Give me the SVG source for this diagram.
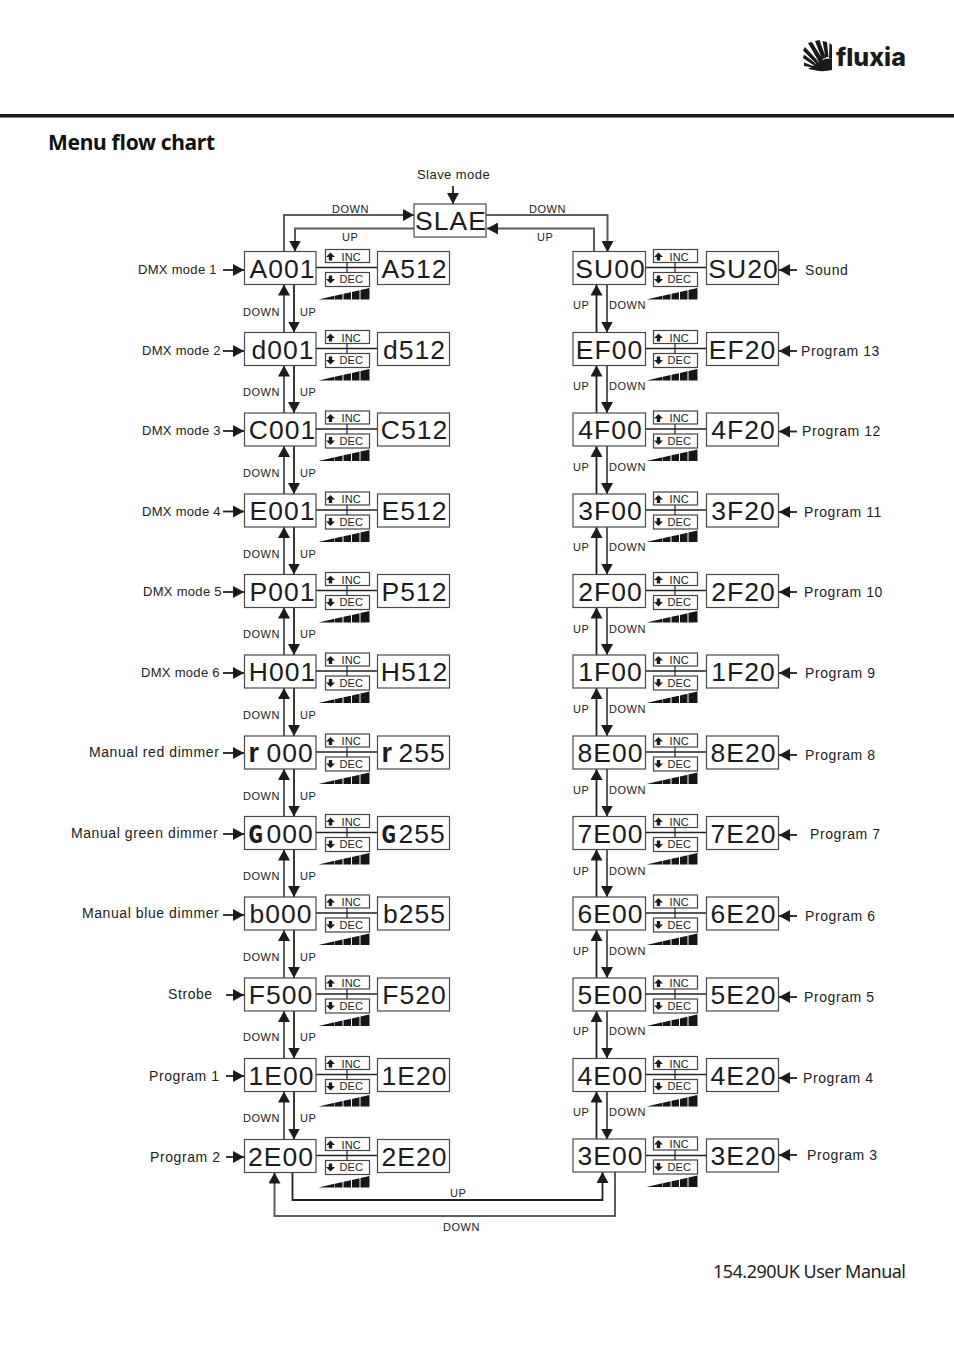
<svg xmlns="http://www.w3.org/2000/svg" width="954" height="1353" viewBox="0 0 954 1353">
<style>
text{font-family:"Liberation Sans",Arial,sans-serif;fill:#222}
.box{fill:#fff;stroke:#4a4a4a;stroke-width:1.2}
.big{font-size:26.5px;text-anchor:middle;letter-spacing:1px;fill:#1c1c1c}
.lb{font-size:13px;letter-spacing:.3px}
.lc{font-size:14px;letter-spacing:.58px}
.sm{font-size:11px;letter-spacing:.55px}
.c{font-size:11px;letter-spacing:.1px}
.blk{font-family:"Liberation Sans",sans-serif;font-weight:bold;font-size:27px}
.blg{font-family:"DejaVu Sans Mono",monospace;font-weight:bold;font-size:25px}
.ln{fill:none;stroke:#222;stroke-width:1.8;marker-end:url(#ah)}
.gr{fill:none;stroke:#5c5c5c;stroke-width:2;marker-end:url(#ah)}
.pl{fill:none;stroke:#222;stroke-width:1.4}
.cb{fill:#fff;stroke:#444;stroke-width:1.2}
</style>
<defs>
<marker id="ah" markerUnits="userSpaceOnUse" markerWidth="12" markerHeight="12" refX="11" refY="6" orient="auto"><path d="M0,0L11,6L0,12z" fill="#1c1c1c"/></marker>
<g id="ctrl">
<rect class="cb" x="0" y="-2" width="44" height="13"/>
<rect class="cb" x="0" y="21" width="44" height="14"/>
<path d="M21.500,11V21" stroke="#222" stroke-width="1.200"/>
<path d="M5,1L9.500,5.500H6.700V9H3.300V5.500H.5z" fill="#1c1c1c"/>
<path d="M5,32L9.500,27.500H6.700V24H3.300V27.500H.5z" fill="#1c1c1c"/>
<path d="M-7,48L9,44.300V48zM9.500,44.200L17,42.600V48H9.500zM18,42.300L25.500,40.700V48H18zM26.500,40.400L34,38.800V48H26.500zM35,38.500L44,36.600V48H35z" fill="#161616"/>
</g>
</defs>
<rect width="954" height="1353" fill="#fff"/>
<g id="logo">
<path d="M808,43L812,42L823,60L819,62zM815,41L819.500,40L826,58L822,59zM822.500,41L827,42L828.500,57L825.500,57.500zM829.500,43L832,45V58H829zM803,50.500L805,47L818,61L816,63.500zM803,58L804,54.500L815,63L814,65.500zM804,66L804,62.500L813,66L813,67.500z" fill="#1a1a1a"/>
<path d="M813,66L817,62L825,59L832,58V70Q826,71.500 819,71Q814,70 808,69z" fill="#1a1a1a"/>
<text x="836" y="66" style="font-family:Inter,sans-serif;font-weight:800;font-size:25px;fill:#1a1a1a">fluxia</text>
</g>
<rect id="rule" x="0" y="114" width="954" height="3.500" fill="#1a1a1a"/>
<text id="title" x="48" y="150" textLength="167" style="font-family:'Noto Sans',sans-serif;font-weight:bold;font-size:21px;fill:#111">Menu flow chart</text>
<text id="footer" x="713" y="1278" textLength="193" style="font-family:'Noto Sans',sans-serif;font-size:18px;fill:#222">154.290UK User Manual</text>

<g id="connectors">
<path class="ln" d="M453,186V204"/>
<path class="gr" d="M284,251V215H414"/>
<path class="gr" d="M414,228.500H295V251.500"/>
<path class="gr" d="M486,215H607.500V252"/>
<path class="gr" d="M594,252V228.500H487"/>
<path class="gr" d="M284,332.500V284.500"/><path class="ln" d="M294,284.500V332.500"/>
<path class="gr" d="M284,413V365.500"/><path class="ln" d="M294,365.500V413"/>
<path class="gr" d="M284,494V446"/><path class="ln" d="M294,446V494"/>
<path class="gr" d="M284,574.500V527"/><path class="ln" d="M294,527V574.500"/>
<path class="gr" d="M284,655V607.500"/><path class="ln" d="M294,607.500V655"/>
<path class="gr" d="M284,736V688"/><path class="ln" d="M294,688V736"/>
<path class="gr" d="M284,816.500V769"/><path class="ln" d="M294,769V816.500"/>
<path class="gr" d="M284,897V849.500"/><path class="ln" d="M294,849.500V897"/>
<path class="gr" d="M284,978V930"/><path class="ln" d="M294,930V978"/>
<path class="gr" d="M284,1058.500V1011"/><path class="ln" d="M294,1011V1058.500"/>
<path class="gr" d="M284,1139.500V1091.500"/><path class="ln" d="M294,1091.500V1139.500"/>
<path class="ln" d="M596.500,332.500V284.500"/><path class="gr" d="M607,284.500V332.500"/>
<path class="ln" d="M596.500,413V365.500"/><path class="gr" d="M607,365.500V413"/>
<path class="ln" d="M596.500,494V446"/><path class="gr" d="M607,446V494"/>
<path class="ln" d="M596.500,574.500V527"/><path class="gr" d="M607,527V574.500"/>
<path class="ln" d="M596.500,655V607.500"/><path class="gr" d="M607,607.500V655"/>
<path class="ln" d="M596.500,736V688"/><path class="gr" d="M607,688V736"/>
<path class="ln" d="M596.500,816.500V769"/><path class="gr" d="M607,769V816.500"/>
<path class="ln" d="M596.500,897V849.500"/><path class="gr" d="M607,849.500V897"/>
<path class="ln" d="M596.500,978V930"/><path class="gr" d="M607,930V978"/>
<path class="ln" d="M596.500,1058.500V1011"/><path class="gr" d="M607,1011V1058.500"/>
<path class="ln" d="M596.500,1139.500V1091.500"/><path class="gr" d="M607,1091.500V1139.500"/>
<path class="ln" d="M292.500,1172.500V1200H602.500V1172"/>
<path class="gr" d="M615,1172V1216H274.500V1172.500"/>
<path class="ln" d="M223,270H244"/><path class="ln" d="M223,351H244"/><path class="ln" d="M223,431H244"/><path class="ln" d="M223,511.500H244"/><path class="ln" d="M223,592H244"/><path class="ln" d="M223,673H244"/><path class="ln" d="M223,753H244"/><path class="ln" d="M223,834H244"/><path class="ln" d="M223,915H244"/><path class="ln" d="M226,995H244"/><path class="ln" d="M226,1076H244"/><path class="ln" d="M226,1157H244"/>
<path class="ln" d="M797,270H779"/><path class="ln" d="M797,351H779"/><path class="ln" d="M797,431.500H779"/><path class="ln" d="M797,512H779"/><path class="ln" d="M797,592H779"/><path class="ln" d="M797,673H779"/><path class="ln" d="M797,755H779"/><path class="ln" d="M797,835H779"/><path class="ln" d="M797,916H779"/><path class="ln" d="M797,997H779"/><path class="ln" d="M797,1078H779"/><path class="ln" d="M797,1155H779"/>
<path class="pl" d="M316,267.500H377.500M316,348.500H377.500M316,429H377.500M316,510H377.500M316,590.500H377.500M316,671H377.500M316,752H377.500M316,832.500H377.500M316,913H377.500M316,994H377.500M316,1074.500H377.500M316,1155.500H377.500"/>
<path class="pl" d="M645.500,267.500H706.500M645.500,348.500H706.500M645.500,429H706.500M645.500,510H706.500M645.500,590.500H706.500M645.500,671H706.500M645.500,752H706.500M645.500,832.500H706.500M645.500,913H706.500M645.500,994H706.500M645.500,1074.500H706.500M645.500,1155.500H706.500"/>
<text class="sm" x="332" y="213">DOWN</text><text class="sm" x="342" y="241">UP</text>
<text class="sm" x="529" y="213">DOWN</text><text class="sm" x="537" y="241">UP</text>
<text class="sm" x="450" y="1197">UP</text><text class="sm" x="443" y="1231">DOWN</text>
<text class="sm" x="243" y="316">DOWN</text><text class="sm" x="300" y="316">UP</text>
<text class="sm" x="243" y="396">DOWN</text><text class="sm" x="300" y="396">UP</text>
<text class="sm" x="243" y="477">DOWN</text><text class="sm" x="300" y="477">UP</text>
<text class="sm" x="243" y="558">DOWN</text><text class="sm" x="300" y="558">UP</text>
<text class="sm" x="243" y="638">DOWN</text><text class="sm" x="300" y="638">UP</text>
<text class="sm" x="243" y="719">DOWN</text><text class="sm" x="300" y="719">UP</text>
<text class="sm" x="243" y="800">DOWN</text><text class="sm" x="300" y="800">UP</text>
<text class="sm" x="243" y="880">DOWN</text><text class="sm" x="300" y="880">UP</text>
<text class="sm" x="243" y="961">DOWN</text><text class="sm" x="300" y="961">UP</text>
<text class="sm" x="243" y="1041">DOWN</text><text class="sm" x="300" y="1041">UP</text>
<text class="sm" x="243" y="1122">DOWN</text><text class="sm" x="300" y="1122">UP</text>
<text class="sm" x="573" y="309">UP</text><text class="sm" x="609" y="309">DOWN</text>
<text class="sm" x="573" y="390">UP</text><text class="sm" x="609" y="390">DOWN</text>
<text class="sm" x="573" y="471">UP</text><text class="sm" x="609" y="471">DOWN</text>
<text class="sm" x="573" y="551">UP</text><text class="sm" x="609" y="551">DOWN</text>
<text class="sm" x="573" y="633">UP</text><text class="sm" x="609" y="633">DOWN</text>
<text class="sm" x="573" y="713">UP</text><text class="sm" x="609" y="713">DOWN</text>
<text class="sm" x="573" y="794">UP</text><text class="sm" x="609" y="794">DOWN</text>
<text class="sm" x="573" y="875">UP</text><text class="sm" x="609" y="875">DOWN</text>
<text class="sm" x="573" y="955">UP</text><text class="sm" x="609" y="955">DOWN</text>
<text class="sm" x="573" y="1035">UP</text><text class="sm" x="609" y="1035">DOWN</text>
<text class="sm" x="573" y="1116">UP</text><text class="sm" x="609" y="1116">DOWN</text>
</g>

<g id="labels-left">
<text class="lb" x="138" y="274">DMX mode 1</text><text class="lb" x="142" y="355">DMX mode 2</text><text class="lb" x="142" y="435">DMX mode 3</text><text class="lb" x="142" y="516">DMX mode 4</text><text class="lb" x="143" y="596">DMX mode 5</text><text class="lb" x="141" y="677">DMX mode 6</text>
<text class="lc" x="89" y="757">Manual red dimmer</text><text class="lc" x="71" y="838">Manual green dimmer</text><text class="lc" x="82" y="918">Manual blue dimmer</text>
<text class="lc" x="168" y="999">Strobe</text><text class="lc" x="149" y="1081">Program 1</text><text class="lc" x="150" y="1162">Program 2</text>
</g>
<g id="labels-right">
<text class="lc" x="805" y="275">Sound</text><text class="lc" x="801" y="356">Program 13</text><text class="lc" x="802" y="436">Program 12</text><text class="lc" x="804" y="517">Program 11</text><text class="lc" x="804" y="597">Program 10</text><text class="lc" x="805" y="678">Program 9</text><text class="lc" x="805" y="760">Program 8</text><text class="lc" x="810" y="839">Program 7</text><text class="lc" x="805" y="921">Program 6</text><text class="lc" x="804" y="1002">Program 5</text><text class="lc" x="803" y="1083">Program 4</text><text class="lc" x="807" y="1160">Program 3</text>
</g>
<text id="slave-label" class="lb" x="417" y="179" style="letter-spacing:.45px">Slave mode</text>
<g id="SLAE"><rect class="box" x="414" y="204" width="72" height="33"/><text class="big" x="451" y="230">SLAE</text></g>

<g id="A001"><rect class="box" x="244.500" y="251.500" width="71.500" height="33"/><text class="big" x="282.500" y="277.500">A001</text></g>
<g id="A512"><rect class="box" x="377.500" y="251.500" width="72" height="33"/><text class="big" x="414.500" y="277.500">A512</text></g>
<g id="ctrl-A001" transform="translate(325.500,251.500)"><use href="#ctrl"/><text class="c" x="16" y="9">INC</text><text class="c" x="14" y="31.500">DEC</text></g>
<g id="d001"><rect class="box" x="244.500" y="332.500" width="71.500" height="33"/><text class="big" x="283" y="358.500">d001</text></g>
<g id="d512"><rect class="box" x="377.500" y="332.500" width="72" height="33"/><text class="big" x="414.500" y="358.500">d512</text></g>
<g id="ctrl-d001" transform="translate(325.500,332.500)"><use href="#ctrl"/><text class="c" x="16" y="9">INC</text><text class="c" x="14" y="31.500">DEC</text></g>
<g id="C001"><rect class="box" x="244.500" y="413" width="71.500" height="33"/><text class="big" x="282.500" y="439">C001</text></g>
<g id="C512"><rect class="box" x="377.500" y="413" width="72" height="33"/><text class="big" x="414.500" y="439">C512</text></g>
<g id="ctrl-C001" transform="translate(325.500,413)"><use href="#ctrl"/><text class="c" x="16" y="9">INC</text><text class="c" x="14" y="31.500">DEC</text></g>
<g id="E001"><rect class="box" x="244.500" y="494" width="71.500" height="33"/><text class="big" x="282.500" y="520">E001</text></g>
<g id="E512"><rect class="box" x="377.500" y="494" width="72" height="33"/><text class="big" x="414.500" y="520">E512</text></g>
<g id="ctrl-E001" transform="translate(325.500,494)"><use href="#ctrl"/><text class="c" x="16" y="9">INC</text><text class="c" x="14" y="31.500">DEC</text></g>
<g id="P001"><rect class="box" x="244.500" y="574.500" width="71.500" height="33"/><text class="big" x="282.500" y="600.500">P001</text></g>
<g id="P512"><rect class="box" x="377.500" y="574.500" width="72" height="33"/><text class="big" x="414.500" y="600.500">P512</text></g>
<g id="ctrl-P001" transform="translate(325.500,574.500)"><use href="#ctrl"/><text class="c" x="16" y="9">INC</text><text class="c" x="14" y="31.500">DEC</text></g>
<g id="H001"><rect class="box" x="244.500" y="655" width="71.500" height="33"/><text class="big" x="282.500" y="681">H001</text></g>
<g id="H512"><rect class="box" x="377.500" y="655" width="72" height="33"/><text class="big" x="414.500" y="681">H512</text></g>
<g id="ctrl-H001" transform="translate(325.500,655)"><use href="#ctrl"/><text class="c" x="16" y="9">INC</text><text class="c" x="14" y="31.500">DEC</text></g>
<g id="r000"><rect class="box" x="244.500" y="736" width="71.500" height="33"/><text class="big" style="text-anchor:start" y="762"><tspan class="blk" x="248.500">r</tspan><tspan x="266.500">000</tspan></text></g>
<g id="r255"><rect class="box" x="377.500" y="736" width="72" height="33"/><text class="big" style="text-anchor:start" y="762"><tspan class="blk" x="381.500">r</tspan><tspan x="398.500">255</tspan></text></g>
<g id="ctrl-r000" transform="translate(325.500,736)"><use href="#ctrl"/><text class="c" x="16" y="9">INC</text><text class="c" x="14" y="31.500">DEC</text></g>
<g id="G000"><rect class="box" x="244.500" y="816.500" width="71.500" height="33"/><text class="big" style="text-anchor:start" y="842.500"><tspan class="blg" x="248">G</tspan><tspan x="266.500">000</tspan></text></g>
<g id="G255"><rect class="box" x="377.500" y="816.500" width="72" height="33"/><text class="big" style="text-anchor:start" y="842.500"><tspan class="blg" x="381">G</tspan><tspan x="398.500">255</tspan></text></g>
<g id="ctrl-G000" transform="translate(325.500,816.500)"><use href="#ctrl"/><text class="c" x="16" y="9">INC</text><text class="c" x="14" y="31.500">DEC</text></g>
<g id="b000"><rect class="box" x="244.500" y="897" width="71.500" height="33"/><text class="big" x="281" y="923">b000</text></g>
<g id="b255"><rect class="box" x="377.500" y="897" width="72" height="33"/><text class="big" x="414.500" y="923">b255</text></g>
<g id="ctrl-b000" transform="translate(325.500,897)"><use href="#ctrl"/><text class="c" x="16" y="9">INC</text><text class="c" x="14" y="31.500">DEC</text></g>
<g id="F500"><rect class="box" x="244.500" y="978" width="71.500" height="33"/><text class="big" x="281" y="1004">F500</text></g>
<g id="F520"><rect class="box" x="377.500" y="978" width="72" height="33"/><text class="big" x="414.500" y="1004">F520</text></g>
<g id="ctrl-F500" transform="translate(325.500,978)"><use href="#ctrl"/><text class="c" x="16" y="9">INC</text><text class="c" x="14" y="31.500">DEC</text></g>
<g id="n1E00"><rect class="box" x="244.500" y="1058.500" width="71.500" height="33"/><text class="big" x="281.500" y="1084.500">1E00</text></g>
<g id="n1E20"><rect class="box" x="377.500" y="1058.500" width="72" height="33"/><text class="big" x="414.500" y="1084.500">1E20</text></g>
<g id="ctrl-1E00" transform="translate(325.500,1058.500)"><use href="#ctrl"/><text class="c" x="16" y="9">INC</text><text class="c" x="14" y="31.500">DEC</text></g>
<g id="n2E00"><rect class="box" x="244.500" y="1139.500" width="71.500" height="33"/><text class="big" x="281" y="1165.500">2E00</text></g>
<g id="n2E20"><rect class="box" x="377.500" y="1139.500" width="72" height="33"/><text class="big" x="414.500" y="1165.500">2E20</text></g>
<g id="ctrl-2E00" transform="translate(325.500,1139.500)"><use href="#ctrl"/><text class="c" x="16" y="9">INC</text><text class="c" x="14" y="31.500">DEC</text></g>

<g id="SU00"><rect class="box" x="573" y="251.500" width="72.500" height="33"/><text class="big" x="610.500" y="277.500">SU00</text></g>
<g id="SU20"><rect class="box" x="706.500" y="251.500" width="72" height="33"/><text class="big" x="743.500" y="277.500">SU20</text></g>
<g id="ctrl-SU00" transform="translate(653.500,251.500)"><use href="#ctrl"/><text class="c" x="16" y="9">INC</text><text class="c" x="14" y="31.500">DEC</text></g>
<g id="EF00"><rect class="box" x="573" y="332.500" width="72.500" height="33"/><text class="big" x="609.500" y="358.500">EF00</text></g>
<g id="EF20"><rect class="box" x="706.500" y="332.500" width="72" height="33"/><text class="big" x="742.500" y="358.500">EF20</text></g>
<g id="ctrl-EF00" transform="translate(653.500,332.500)"><use href="#ctrl"/><text class="c" x="16" y="9">INC</text><text class="c" x="14" y="31.500">DEC</text></g>
<g id="n4F00"><rect class="box" x="573" y="413" width="72.500" height="33"/><text class="big" x="610.500" y="439">4F00</text></g>
<g id="n4F20"><rect class="box" x="706.500" y="413" width="72" height="33"/><text class="big" x="743.500" y="439">4F20</text></g>
<g id="ctrl-4F00" transform="translate(653.500,413)"><use href="#ctrl"/><text class="c" x="16" y="9">INC</text><text class="c" x="14" y="31.500">DEC</text></g>
<g id="n3F00"><rect class="box" x="573" y="494" width="72.500" height="33"/><text class="big" x="610.500" y="520">3F00</text></g>
<g id="n3F20"><rect class="box" x="706.500" y="494" width="72" height="33"/><text class="big" x="743.500" y="520">3F20</text></g>
<g id="ctrl-3F00" transform="translate(653.500,494)"><use href="#ctrl"/><text class="c" x="16" y="9">INC</text><text class="c" x="14" y="31.500">DEC</text></g>
<g id="n2F00"><rect class="box" x="573" y="574.500" width="72.500" height="33"/><text class="big" x="610.500" y="600.500">2F00</text></g>
<g id="n2F20"><rect class="box" x="706.500" y="574.500" width="72" height="33"/><text class="big" x="743.500" y="600.500">2F20</text></g>
<g id="ctrl-2F00" transform="translate(653.500,574.500)"><use href="#ctrl"/><text class="c" x="16" y="9">INC</text><text class="c" x="14" y="31.500">DEC</text></g>
<g id="n1F00"><rect class="box" x="573" y="655" width="72.500" height="33"/><text class="big" x="610.500" y="681">1F00</text></g>
<g id="n1F20"><rect class="box" x="706.500" y="655" width="72" height="33"/><text class="big" x="743.500" y="681">1F20</text></g>
<g id="ctrl-1F00" transform="translate(653.500,655)"><use href="#ctrl"/><text class="c" x="16" y="9">INC</text><text class="c" x="14" y="31.500">DEC</text></g>
<g id="n8E00"><rect class="box" x="573" y="736" width="72.500" height="33"/><text class="big" x="610.500" y="762">8E00</text></g>
<g id="n8E20"><rect class="box" x="706.500" y="736" width="72" height="33"/><text class="big" x="743.500" y="762">8E20</text></g>
<g id="ctrl-8E00" transform="translate(653.500,736)"><use href="#ctrl"/><text class="c" x="16" y="9">INC</text><text class="c" x="14" y="31.500">DEC</text></g>
<g id="n7E00"><rect class="box" x="573" y="816.500" width="72.500" height="33"/><text class="big" x="610.500" y="842.500">7E00</text></g>
<g id="n7E20"><rect class="box" x="706.500" y="816.500" width="72" height="33"/><text class="big" x="743.500" y="842.500">7E20</text></g>
<g id="ctrl-7E00" transform="translate(653.500,816.500)"><use href="#ctrl"/><text class="c" x="16" y="9">INC</text><text class="c" x="14" y="31.500">DEC</text></g>
<g id="n6E00"><rect class="box" x="573" y="897" width="72.500" height="33"/><text class="big" x="610.500" y="923">6E00</text></g>
<g id="n6E20"><rect class="box" x="706.500" y="897" width="72" height="33"/><text class="big" x="743.500" y="923">6E20</text></g>
<g id="ctrl-6E00" transform="translate(653.500,897)"><use href="#ctrl"/><text class="c" x="16" y="9">INC</text><text class="c" x="14" y="31.500">DEC</text></g>
<g id="n5E00"><rect class="box" x="573" y="978" width="72.500" height="33"/><text class="big" x="610.500" y="1004">5E00</text></g>
<g id="n5E20"><rect class="box" x="706.500" y="978" width="72" height="33"/><text class="big" x="743.500" y="1004">5E20</text></g>
<g id="ctrl-5E00" transform="translate(653.500,978)"><use href="#ctrl"/><text class="c" x="16" y="9">INC</text><text class="c" x="14" y="31.500">DEC</text></g>
<g id="n4E00"><rect class="box" x="573" y="1058.500" width="72.500" height="33"/><text class="big" x="610.500" y="1084.500">4E00</text></g>
<g id="n4E20"><rect class="box" x="706.500" y="1058.500" width="72" height="33"/><text class="big" x="743.500" y="1084.500">4E20</text></g>
<g id="ctrl-4E00" transform="translate(653.500,1058.500)"><use href="#ctrl"/><text class="c" x="16" y="9">INC</text><text class="c" x="14" y="31.500">DEC</text></g>
<g id="n3E00"><rect class="box" x="573" y="1139" width="72.500" height="33"/><text class="big" x="610.500" y="1165">3E00</text></g>
<g id="n3E20"><rect class="box" x="706.500" y="1139" width="72" height="33"/><text class="big" x="743.500" y="1165">3E20</text></g>
<g id="ctrl-3E00" transform="translate(653.500,1139)"><use href="#ctrl"/><text class="c" x="16" y="9">INC</text><text class="c" x="14" y="31.500">DEC</text></g>
</svg>
